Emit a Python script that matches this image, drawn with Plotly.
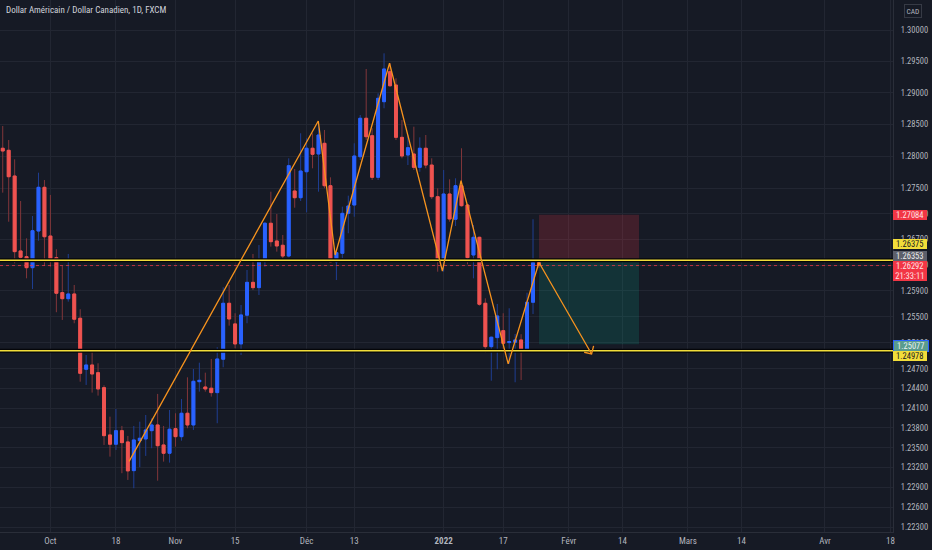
import math
import pandas as pd
import plotly.graph_objects as go

# daily USD/CAD candles, 21 Sep 2021 -> 25 Jan 2022 (weekdays)
dates = pd.bdate_range("2021-09-21", "2022-01-25")

opens = [1.28125, 1.28093, 1.27689, 1.26519, 1.26430, 1.26259, 1.26829, 1.27512, 1.26751, 1.26414,
         1.25873, 1.25779, 1.25852, 1.25477, 1.24693, 1.24759, 1.24641, 1.24412, 1.23691, 1.23550,
         1.23756, 1.23585, 1.23150, 1.23604, 1.23630, 1.23756, 1.23843, 1.23539, 1.23413, 1.23787,
         1.23665, 1.24021, 1.23843, 1.24503, 1.24422, 1.24403, 1.24336, 1.24847, 1.25708, 1.25390,
         1.25082, 1.25524, 1.26032, 1.25950, 1.26389, 1.26950, 1.26674, 1.26607, 1.26440, 1.27454,
         1.27349, 1.27756, 1.28125, 1.28035, 1.28203, 1.27537, 1.26352, 1.26482, 1.27105, 1.27235,
         1.27992, 1.28598, 1.28323, 1.27668, 1.28860, 1.29336, 1.29124, 1.28297, 1.28019, 1.28035,
         1.27825, 1.28125, 1.27861, 1.27365, 1.26378, 1.27407, 1.27012, 1.27537, 1.27235, 1.26456,
         1.26731, 1.25708, 1.25040, 1.25179, 1.25286, 1.25102, 1.25108, 1.25143, 1.24978, 1.25724,
         1.26353]
highs = [1.28476, 1.28255, 1.27951, 1.27297, 1.26715, 1.27063, 1.27741, 1.27626, 1.27392, 1.26545,
         1.26285, 1.26472, 1.25991, 1.25616, 1.24912, 1.24978, 1.24785, 1.24448, 1.23969, 1.24086,
         1.23828, 1.23676, 1.23828, 1.23893, 1.23995, 1.23945, 1.24316, 1.23828, 1.24071, 1.24021,
         1.24239, 1.24570, 1.24697, 1.24794, 1.24641, 1.24851, 1.25031, 1.25955, 1.25991, 1.25554,
         1.25682, 1.26223, 1.26472, 1.26611, 1.26970, 1.27443, 1.27095, 1.26767, 1.27967, 1.27799,
         1.28361, 1.28282, 1.28361, 1.28555, 1.28413, 1.27668, 1.26560, 1.27209, 1.27381, 1.28203,
         1.28650, 1.29379, 1.28440, 1.28993, 1.29628, 1.29470, 1.29231, 1.28571, 1.28334, 1.28465,
         1.28297, 1.28334, 1.27967, 1.27496, 1.27783, 1.27637, 1.27653, 1.28125, 1.27240, 1.26923,
         1.26740, 1.25785, 1.25194, 1.25698, 1.25554, 1.25631, 1.25235, 1.25231, 1.25872, 1.27012,
         1.26400]
lows = [1.27428, 1.26974, 1.26327, 1.26394, 1.26094, 1.25929, 1.26678, 1.26285, 1.26274, 1.25570,
        1.25451, 1.25733, 1.25400, 1.24503, 1.24453, 1.24336, 1.24290, 1.23539, 1.23362, 1.23463,
        1.23111, 1.23009, 1.22884, 1.23202, 1.23373, 1.23489, 1.22998, 1.23286, 1.23271, 1.23513,
        1.23604, 1.23793, 1.23767, 1.24351, 1.24351, 1.24275, 1.23869, 1.24724, 1.25363, 1.25015,
        1.24912, 1.25400, 1.25914, 1.25836, 1.26274, 1.26586, 1.26508, 1.26404, 1.26420, 1.27193,
        1.27297, 1.27121, 1.27810, 1.27443, 1.27497, 1.26340, 1.26068, 1.26404, 1.26794, 1.27052,
        1.27940, 1.28255, 1.27626, 1.27626, 1.28756, 1.29097, 1.28255, 1.27967, 1.27861, 1.27783,
        1.27756, 1.27810, 1.27329, 1.26197, 1.26197, 1.26974, 1.26907, 1.27209, 1.26311, 1.26094,
        1.25671, 1.24948, 1.24518, 1.24693, 1.24954, 1.24774, 1.24494, 1.24529, 1.24970, 1.25543,
        1.26250]
closes = [1.28082, 1.27678, 1.26508, 1.26420, 1.26259, 1.26834, 1.27512, 1.26740, 1.26398, 1.25863,
          1.25779, 1.25852, 1.25462, 1.24631, 1.24759, 1.24621, 1.24392, 1.23680, 1.23550, 1.23756,
          1.23574, 1.23146, 1.23615, 1.23641, 1.23767, 1.23843, 1.23528, 1.23413, 1.23778, 1.23665,
          1.24021, 1.23843, 1.24509, 1.24524, 1.24392, 1.24336, 1.24851, 1.25708, 1.25466, 1.25082,
          1.25528, 1.26032, 1.25950, 1.26352, 1.26950, 1.26663, 1.26596, 1.26440, 1.27851, 1.27349,
          1.27767, 1.28125, 1.28030, 1.28334, 1.27537, 1.26352, 1.26492, 1.27105, 1.27220, 1.28003,
          1.28598, 1.28307, 1.27668, 1.28914, 1.29379, 1.29113, 1.28297, 1.28003, 1.28134, 1.27825,
          1.28125, 1.27861, 1.27365, 1.26394, 1.27407, 1.27017, 1.27537, 1.27224, 1.26414, 1.26731,
          1.25693, 1.25040, 1.25185, 1.25512, 1.25092, 1.25117, 1.25143, 1.24978, 1.25724, 1.26336,
          1.26292]

# drawings
zigzag_x = ["2021-10-20 05:00", "2021-12-02 23:00", "2021-12-07 19:00", "2021-12-20 22:00",
            "2021-12-31 19:00", "2022-01-05 22:00", "2022-01-17 20:00", "2022-01-25 00:00",
            "2022-02-04 20:00"]
zigzag_y = [1.23290, 1.28555, 1.26456, 1.29470, 1.26207, 1.27615, 1.24775, 1.26340, 1.24928]
arrow_x = ["2022-02-03 14:00", "2022-02-04 20:00", "2022-02-07 04:00"]
arrow_y = [1.24954, 1.24928, 1.25051]

pos_x = ["2022-01-25 00:00", "2022-02-16 19:00"]
stop_price, entry_price, target_price = 1.27084, 1.26353, 1.25077
yellow_levels = [1.26375, 1.24978]
last_price = 1.26292
countdown = "21:33:11"

x_range = ["2021-09-20 13:00", "2022-04-18 10:00"]
y_range = [1.22225, 1.30480]

tick_dates = ["2021-10-01", "2021-10-18", "2021-11-01", "2021-11-15", "2021-12-01", "2021-12-13",
              "2022-01-03", "2022-01-17", "2022-02-01", "2022-02-14", "2022-03-01", "2022-03-14",
              "2022-04-01", "2022-04-18"]
tick_text = ["Oct", "18", "Nov", "15", "Déc", "13", "<b>2022</b>", "17", "Févr", "14", "Mars", "14",
             "Avr", "18"]
price_ticks = [1.300, 1.295, 1.290, 1.285, 1.280, 1.275, 1.271, 1.267, 1.263, 1.259, 1.255, 1.251,
               1.247, 1.244, 1.241, 1.238, 1.235, 1.232, 1.229, 1.226, 1.223]

BG = "#161a25"
GRID = "#222632"
TXT = "#b2b5be"
UP, DOWN = "#2962ff", "#ef5350"
UP_WICK, DOWN_WICK = "#1f3e92", "#82363a"
FONT = "Liberation Sans Narrow, Roboto Condensed, Roboto"

fig = go.Figure()

# risk / reward boxes
fig.add_trace(go.Scatter(x=[pos_x[0], pos_x[1], pos_x[1], pos_x[0], pos_x[0]],
                         y=[stop_price, stop_price, entry_price, entry_price, stop_price],
                         fill="toself", fillcolor="rgba(242,54,69,0.2)", line=dict(width=0),
                         mode="lines", hoverinfo="skip"))
fig.add_trace(go.Scatter(x=[pos_x[0], pos_x[1], pos_x[1], pos_x[0], pos_x[0]],
                         y=[entry_price, entry_price, target_price, target_price, entry_price],
                         fill="toself", fillcolor="rgba(8,153,129,0.2)", line=dict(width=0),
                         mode="lines", hoverinfo="skip"))

# wicks
fig.add_trace(go.Candlestick(x=dates, open=opens, high=highs, low=lows, close=closes,
                             increasing=dict(line=dict(color=UP_WICK, width=1), fillcolor=UP_WICK),
                             decreasing=dict(line=dict(color=DOWN_WICK, width=1), fillcolor=DOWN_WICK),
                             hoverinfo="skip"))
# bodies
body_hi = [max(o, c) for o, c in zip(opens, closes)]
body_lo = [min(o, c) for o, c in zip(opens, closes)]
fig.add_trace(go.Candlestick(x=dates, open=opens, high=body_hi, low=body_lo, close=closes,
                             increasing=dict(line=dict(color=UP, width=1), fillcolor=UP),
                             decreasing=dict(line=dict(color=DOWN, width=1), fillcolor=DOWN),
                             hoverinfo="skip"))

# horizontal levels
for lvl in yellow_levels:
    fig.add_trace(go.Scatter(x=x_range, y=[lvl, lvl], mode="lines",
                             line=dict(color="#05060a", width=4), hoverinfo="skip"))
    fig.add_trace(go.Scatter(x=x_range, y=[lvl, lvl], mode="lines",
                             line=dict(color="#f2dd3a", width=1.6), hoverinfo="skip"))
fig.add_trace(go.Scatter(x=x_range, y=[last_price, last_price], mode="lines",
                         line=dict(color="rgba(242,54,69,0.75)", width=1, dash="dot"),
                         hoverinfo="skip"))

# zigzag and arrow
fig.add_trace(go.Scatter(x=zigzag_x, y=zigzag_y, mode="lines",
                         line=dict(color="#f7931e", width=1.3), hoverinfo="skip"))
fig.add_trace(go.Scatter(x=arrow_x, y=arrow_y, mode="lines",
                         line=dict(color="#f7931e", width=1.3), hoverinfo="skip"))

# price tags on the right scale (price, text, background, text colour, pixel shift, border)
tags = [
    (stop_price, "1.27084", "#f23645", "#ffe4e6", 0, None),
    (1.26375, "1.26375", "#f2dd3a", "#131722", 16, None),
    (entry_price, "1.26353", "#5d606b", "#eeeeee", 5.8, None),
    (last_price, "1.26292", "#f23645", "#ffe4e6", -0.5, None),
    (last_price, countdown, "#f23645", "#ffe4e6", -10, None),
    (target_price, "1.25077", "#5a9c8e", "#eef5f2", -1.5, "#2962ff"),
    (1.24978, "1.24978", "#f2dd3a", "#131722", -5.5, None),
]
for price, label, bg, fg, shift, border in tags:
    fig.add_annotation(x=1, xref="paper", xanchor="left", xshift=0,
                       y=math.log10(price), yref="y", yanchor="middle", yshift=shift,
                       text=label, showarrow=False, align="center",
                       font=dict(family=FONT, size=8.5, color=fg),
                       bgcolor=bg, borderpad=1.3, width=31, height=7.6,
                       bordercolor=border or bg, borderwidth=1 if border else 0)

fig.add_annotation(x=0.005, xref="paper", xanchor="left", y=1, yref="paper", yanchor="middle",
                   yshift=-10, text="Dollar Américain / Dollar Canadien, 1D, FXCM", showarrow=False,
                   font=dict(family=FONT, size=9, color="#d1d4dc"))
fig.add_annotation(x=1.0, xref="paper", xanchor="left", xshift=11, y=1.0, yref="paper",
                   yanchor="top", yshift=-4, text="CAD", showarrow=False,
                   font=dict(family=FONT, size=7.5, color=TXT), bordercolor="#363a45",
                   borderwidth=1, borderpad=1.5)

fig.update_layout(
    width=932, height=550,
    margin=dict(l=0, r=39, t=0, b=18),
    paper_bgcolor=BG, plot_bgcolor=BG,
    showlegend=False, hovermode=False,
    xaxis=dict(type="date", range=x_range, rangeslider=dict(visible=False),
               rangebreaks=[dict(bounds=["sat", "mon"])],
               tickvals=tick_dates, ticktext=tick_text, ticks="",
               tickfont=dict(family=FONT, size=9, color=TXT),
               showgrid=True, gridcolor=GRID, gridwidth=1,
               showline=True, linecolor="#2a2e39", zeroline=False),
    yaxis=dict(type="log", side="right", range=[math.log10(y_range[0]), math.log10(y_range[1])],
               tickvals=price_ticks, ticktext=[f"{v:.5f}" for v in price_ticks], ticks="",
               ticklabelstandoff=5,
               tickfont=dict(family=FONT, size=8.5, color=TXT),
               showgrid=True, gridcolor=GRID, gridwidth=1,
               showline=True, linecolor="#2a2e39", zeroline=False),
)

# the page body has a default 8px margin; remove it so the chart fills the window
fig.write_html("out.html", config={"displayModeBar": False},
               post_script="document.body.style.margin='0';")
